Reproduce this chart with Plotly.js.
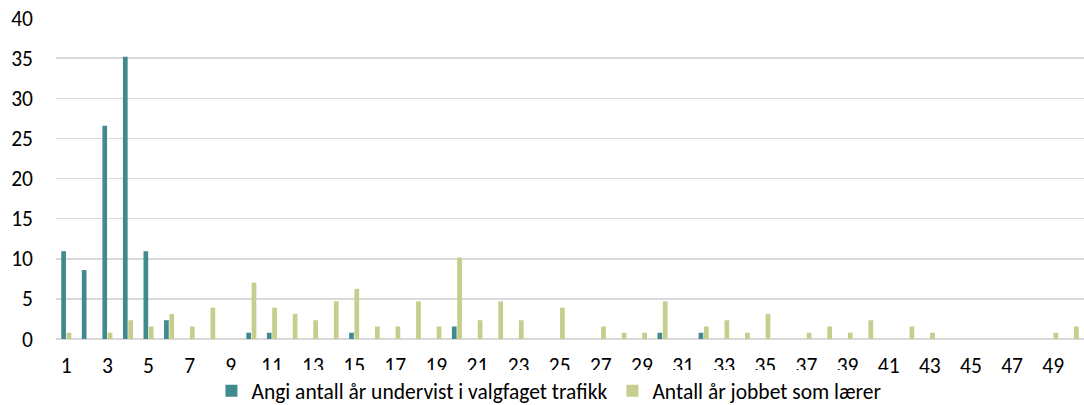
<!DOCTYPE html>
<html>
<head>
<meta charset="utf-8">
<script src="https://cdn.plot.ly/plotly-3.0.1.min.js"></script>
<style>
html,body{margin:0;padding:0;background:#fff;}
#chart{width:1084px;height:405px;}
</style>
</head>
<body>
<div id="chart"></div>
<script>
// Categories: years 1..50
var years = [];
for (var i = 1; i <= 50; i++) years.push(i);

var seriesNames = ["Angi antall år undervist i valgfaget trafikk", "Antall år jobbet som lærer"];

// Percent values
var undervistValgfag = [
  10.94, 8.59, 26.56, 35.16, 10.94, 2.34, 0, 0, 0, 0.78,
  0.78, 0, 0, 0, 0.78, 0, 0, 0, 0, 1.56,
  0, 0, 0, 0, 0, 0, 0, 0, 0, 0.78,
  0, 0.78, 0, 0, 0, 0, 0, 0, 0, 0,
  0, 0, 0, 0, 0, 0, 0, 0, 0, 0
];
var jobbetLaerer = [
  0.78, 0, 0.78, 2.34, 1.56, 3.13, 1.56, 3.91, 0, 7.03,
  3.91, 3.13, 2.34, 4.69, 6.25, 1.56, 1.56, 4.69, 1.56, 10.16,
  2.34, 4.69, 2.34, 0, 3.91, 0, 1.56, 0.78, 0.78, 4.69,
  0, 1.56, 2.34, 0.78, 3.13, 0, 0.78, 1.56, 0.78, 2.34,
  0, 1.56, 0.78, 0, 0, 0, 0, 0, 0.78, 1.56
];

var xTickVals = [1,3,5,7,9,11,13,15,17,19,21,23,25,27,29,31,33,35,37,39,41,43,45,47,49];
var yTickVals = [0,5,10,15,20,25,30,35,40];

var FONT = "Carlito, Calibri, 'Open Sans', sans-serif";
var FS = 21.5;

var traces = [
  {
    type: "bar", name: seriesNames[0], x: years, y: undervistValgfag,
    marker: {color: "#418a8d", line: {width: 0}},
    hoverinfo: "x+y"
  },
  {
    type: "bar", name: seriesNames[1], x: years, y: jobbetLaerer,
    marker: {color: "#c6cd8d", line: {width: 0}},
    hoverinfo: "x+y"
  }
];

var layout = {
  width: 1084, height: 405,
  margin: {l: 56, r: 0, t: 18, b: 66, pad: 0, autoexpand: false},
  paper_bgcolor: "#ffffff", plot_bgcolor: "#ffffff",
  font: {family: FONT, size: FS, color: "#000000"},
  barmode: "group",
  bargap: 0.48, bargroupgap: 0.12,
  showlegend: true,
  legend: {
    orientation: "h", x: 0.48, xanchor: "center",
    yref: "container", y: 0.035, yanchor: "middle",
    font: {family: FONT, size: FS, color: "#000000"},
    itemwidth: 30, tracegroupgap: 0, traceorder: "normal"
  },
  xaxis: {
    range: [0.5, 50.5], tickmode: "array", tickvals: xTickVals,
    ticktext: xTickVals.map(String),
    showgrid: false, zeroline: false, showline: false,
    ticks: "", ticklabelstandoff: 11,
    tickfont: {family: FONT, size: FS, color: "#000000"}
  },
  yaxis: {
    range: [0, 40], tickmode: "array", tickvals: yTickVals,
    showgrid: true, gridcolor: "#d9d9d9", gridwidth: 1.5,
    zeroline: true, zerolinecolor: "#d9d9d9", zerolinewidth: 1.5,
    showline: false, ticks: "", ticklabelstandoff: 22,
    tickfont: {family: FONT, size: FS, color: "#000000"}
  }
};

Plotly.newPlot("chart", traces, layout, {displayModeBar: false, staticPlot: true});
</script>
</body>
</html>
